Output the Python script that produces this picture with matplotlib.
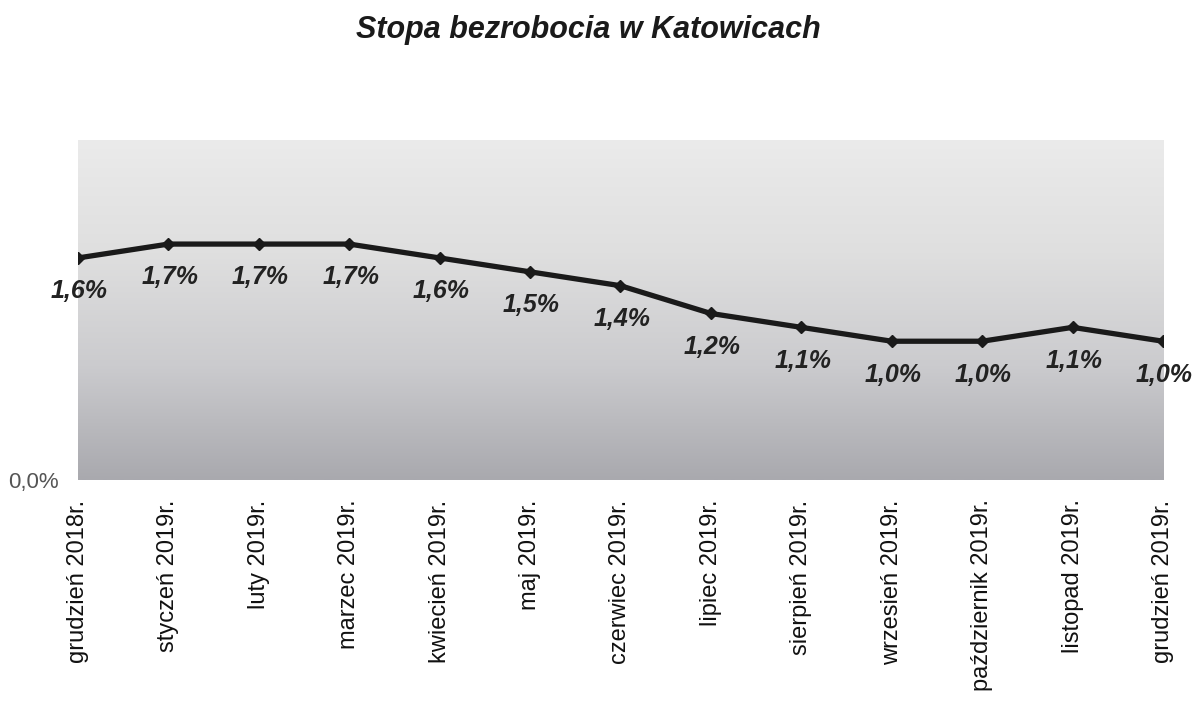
import numpy as np
import matplotlib
matplotlib.use("Agg")
import matplotlib.pyplot as plt
from matplotlib.colors import LinearSegmentedColormap

months = ['grudzień 2018r.', 'styczeń 2019r.', 'luty 2019r.', 'marzec 2019r.',
          'kwiecień 2019r.', 'maj 2019r.', 'czerwiec 2019r.', 'lipiec 2019r.',
          'sierpień 2019r.', 'wrzesień 2019r.', 'październik 2019r.',
          'listopad 2019r.', 'grudzień 2019r.']
rate = [1.6, 1.7, 1.7, 1.7, 1.6, 1.5, 1.4, 1.2, 1.1, 1.0, 1.0, 1.1, 1.0]

plt.rcParams['font.family'] = ['Liberation Sans', 'DejaVu Sans']

fig = plt.figure(figsize=(11.96, 7.02), dpi=100)
ax = fig.add_axes([0.0652, 0.3162, 0.9072, 0.4844])

# grey gradient background of the plot area
bg = LinearSegmentedColormap.from_list('bg', ['#a9a9ae', '#cbcbce', '#dfdfdf', '#ebebeb'])
grad = np.linspace(0, 1, 256).reshape(-1, 1)
ax.imshow(grad, cmap=bg, origin='lower', aspect='auto',
          extent=[0, 1, 0, 1], transform=ax.transAxes, zorder=0)

x = np.arange(len(months))
ax.plot(x, rate, color='#1a1a1a', lw=3.8, marker='D', ms=6.5, zorder=3,
        solid_joinstyle='round')

for xi, v in zip(x, rate):
    ax.annotate(f'{v:.1f}%'.replace('.', ','), (xi, v), xytext=(1, -24),
                textcoords='offset points', ha='center', va='center',
                fontsize=18, fontweight='bold', fontstyle='italic',
                color='#222222', zorder=4)

ax.set_xlim(0, len(months) - 1)
ax.set_ylim(0, 2.45)
ax.set_xticks(x)
ax.set_xticklabels(months, rotation=90, fontsize=17, color='#111111')
ax.set_yticks([0])
ax.set_yticklabels(['0,0%'], fontsize=16, color='#555555')
ax.tick_params(axis='both', length=0)
ax.tick_params(axis='x', pad=14)
ax.tick_params(axis='y', pad=14)
for s in ax.spines.values():
    s.set_visible(False)

fig.text(0.492, 0.957, 'Stopa bezrobocia w Katowicach', ha='center', va='center',
         fontsize=22, fontweight='bold', fontstyle='italic', color='#1a1a1a')

fig.savefig('out.png', dpi=100, facecolor='white')
